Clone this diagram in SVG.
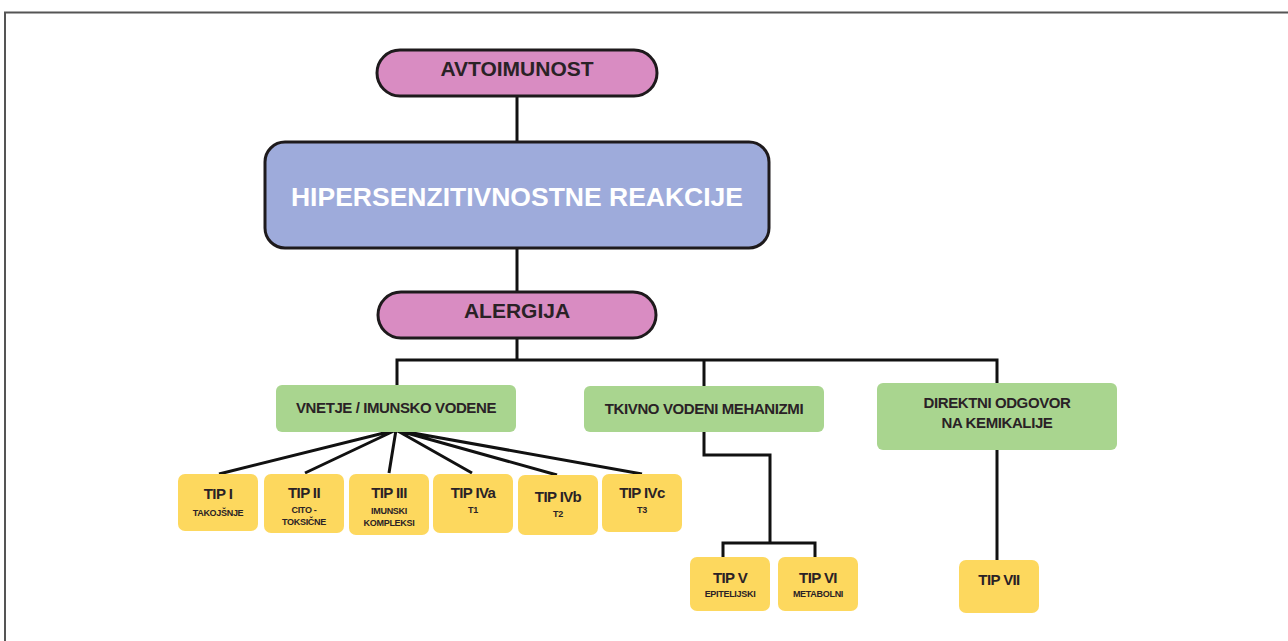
<svg xmlns="http://www.w3.org/2000/svg" width="1288" height="641" viewBox="0 0 1288 641">
<style>
text{font-family:"Liberation Sans",Arial,sans-serif;font-weight:bold;text-anchor:middle;fill:#2a2226}
.pill{fill:#d98cc2;stroke:#1e1a1c;stroke-width:3}
.blue{fill:#9eabdb;stroke:#1e1a1c;stroke-width:3}
.green{fill:#a9d58f}
.yel{fill:#fdd85e}
.ln{stroke:#111;stroke-width:3;fill:none}
.t1{font-size:21px}
.t2{font-size:15px;letter-spacing:-0.4px}
.tip{font-size:15px;letter-spacing:-0.6px}
.sub{font-size:9px;letter-spacing:-0.3px}
</style>
<rect x="0" y="0" width="1288" height="641" fill="#fff"/>
<path d="M5 641 V12.5 H1288" fill="none" stroke="#555" stroke-width="2"/>
<g id="connectors">
<path class="ln" d="M517 96 V142 M517 248 V292 M517 338 V360"/>
<path class="ln" d="M397 385 V360 H997 V383 M704 360 V386"/>
<path class="ln" d="M396 430 L219 474 M396 430 L305 473 M396 430 L389 473 M396 430 L472 473 M396 430 L557 475 M396 430 L642 474"/>
<path class="ln" d="M704 432 V455 H770 V543 M723 557 V543 H815 V557"/>
<path class="ln" d="M997 450 V561"/>
</g>
<g id="avtoimunost"><rect class="pill" x="377" y="50" width="280" height="46" rx="23"/><text class="t1" x="517" y="76">AVTOIMUNOST</text></g>
<g id="hipersenzitivnostne"><rect class="blue" x="265" y="142" width="504" height="106" rx="20"/><text x="517" y="206" style="font-size:26.5px;fill:#fff">HIPERSENZITIVNOSTNE REAKCIJE</text></g>
<g id="alergija"><rect class="pill" x="378" y="292" width="278" height="46" rx="23"/><text class="t1" x="517" y="318">ALERGIJA</text></g>
<g id="vnetje"><rect class="green" x="276" y="385" width="240" height="47" rx="6"/><text class="t2" x="396" y="413">VNETJE / IMUNSKO VODENE</text></g>
<g id="tkivno"><rect class="green" x="584" y="386" width="240" height="46" rx="6"/><text class="t2" x="704" y="414">TKIVNO VODENI MEHANIZMI</text></g>
<g id="direktni"><rect class="green" x="877" y="383" width="240" height="67" rx="6"/><text class="t2" x="997" y="408">DIREKTNI ODGOVOR</text><text class="t2" x="997" y="428">NA KEMIKALIJE</text></g>
<g id="tip1"><rect class="yel" x="178" y="474" width="80" height="57" rx="7"/><text class="tip" x="218" y="499">TIP I</text><text class="sub" x="218" y="516">TAKOJŠNJE</text></g>
<g id="tip2"><rect class="yel" x="264" y="474" width="80" height="59" rx="7"/><text class="tip" x="304" y="498">TIP II</text><text class="sub" x="304" y="513">CITO -</text><text class="sub" x="304" y="525">TOKSIČNE</text></g>
<g id="tip3"><rect class="yel" x="349" y="474" width="80" height="61" rx="7"/><text class="tip" x="389" y="498">TIP III</text><text class="sub" x="389" y="514">IMUNSKI</text><text class="sub" x="389" y="526">KOMPLEKSI</text></g>
<g id="tip4a"><rect class="yel" x="433" y="474" width="80" height="59" rx="7"/><text class="tip" x="473" y="498">TIP IVa</text><text class="sub" x="473" y="513">T1</text></g>
<g id="tip4b"><rect class="yel" x="518" y="475" width="80" height="60" rx="7"/><text class="tip" x="558" y="502">TIP IVb</text><text class="sub" x="558" y="517">T2</text></g>
<g id="tip4c"><rect class="yel" x="602" y="474" width="80" height="58" rx="7"/><text class="tip" x="642" y="498">TIP IVc</text><text class="sub" x="642" y="513">T3</text></g>
<g id="tip5"><rect class="yel" x="690" y="557" width="80" height="54" rx="7"/><text class="tip" x="730" y="583">TIP V</text><text class="sub" x="730" y="597">EPITELIJSKI</text></g>
<g id="tip6"><rect class="yel" x="778" y="557" width="80" height="54" rx="7"/><text class="tip" x="818" y="583">TIP VI</text><text class="sub" x="818" y="597">METABOLNI</text></g>
<g id="tip7"><rect class="yel" x="959" y="560" width="80" height="53" rx="7"/><text class="tip" x="999" y="585">TIP VII</text></g>
</svg>
